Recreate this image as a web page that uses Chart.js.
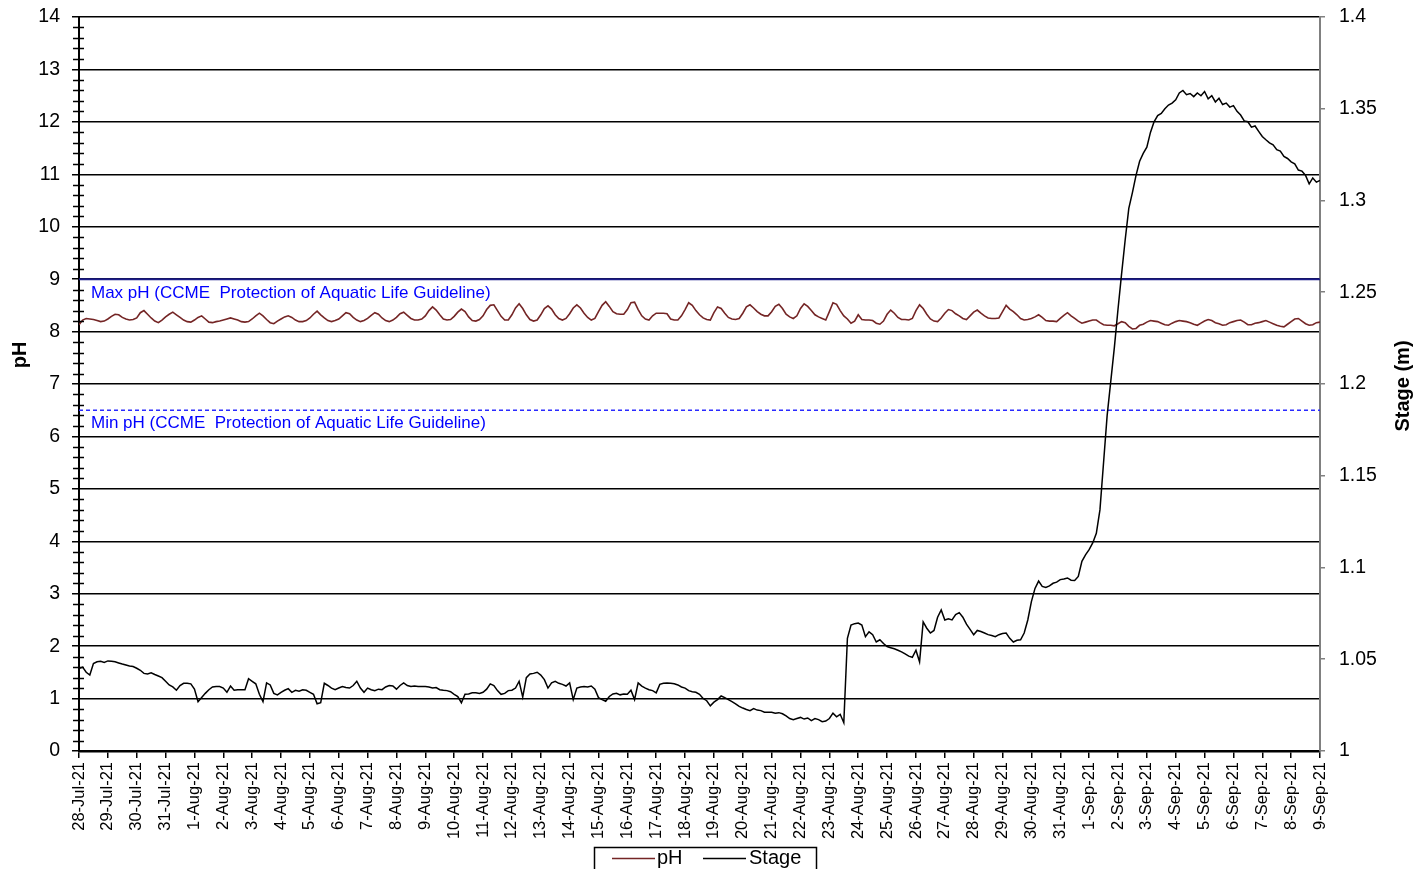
<!DOCTYPE html>
<html>
<head>
<meta charset="utf-8">
<script src="https://cdn.jsdelivr.net/npm/chart.js@4.4.1/dist/chart.umd.min.js"></script>
<style>
  html, body { margin: 0; padding: 0; background: #ffffff; }
  canvas { display: block; }
</style>
</head>
<body>
<canvas id="chart" width="1426" height="869"></canvas>
<script>
// Daily tick labels, 28 Jul 2021 to 9 Sep 2021
const dateLabels = [
  '28-Jul-21','29-Jul-21','30-Jul-21','31-Jul-21',
  '1-Aug-21','2-Aug-21','3-Aug-21','4-Aug-21','5-Aug-21','6-Aug-21','7-Aug-21','8-Aug-21',
  '9-Aug-21','10-Aug-21','11-Aug-21','12-Aug-21','13-Aug-21','14-Aug-21','15-Aug-21','16-Aug-21',
  '17-Aug-21','18-Aug-21','19-Aug-21','20-Aug-21','21-Aug-21','22-Aug-21','23-Aug-21','24-Aug-21',
  '25-Aug-21','26-Aug-21','27-Aug-21','28-Aug-21','29-Aug-21','30-Aug-21','31-Aug-21',
  '1-Sep-21','2-Sep-21','3-Sep-21','4-Sep-21','5-Sep-21','6-Sep-21','7-Sep-21','8-Sep-21','9-Sep-21'
];

// Logger readings every 3 hours (8 per day), starting 28-Jul-21 00:00
const STEP_DAYS = 0.125;

const phValues = [
  8.13, 8.22, 8.25, 8.24, 8.23, 8.21, 8.19, 8.20,
  8.24, 8.29, 8.33, 8.32, 8.27, 8.24, 8.22, 8.23,
  8.26, 8.36, 8.40, 8.33, 8.26, 8.20, 8.17, 8.22,
  8.28, 8.33, 8.37, 8.32, 8.27, 8.22, 8.19, 8.18,
  8.22, 8.27, 8.30, 8.24, 8.18, 8.17, 8.19, 8.20,
  8.22, 8.24, 8.26, 8.24, 8.22, 8.19, 8.18, 8.19,
  8.24, 8.30, 8.35, 8.30, 8.23, 8.17, 8.15, 8.20,
  8.24, 8.28, 8.30, 8.27, 8.22, 8.19, 8.19, 8.21,
  8.26, 8.33, 8.39, 8.32, 8.26, 8.21, 8.19, 8.21,
  8.24, 8.30, 8.36, 8.34, 8.27, 8.22, 8.19, 8.21,
  8.25, 8.31, 8.36, 8.33, 8.26, 8.21, 8.19, 8.22,
  8.27, 8.34, 8.37, 8.31, 8.25, 8.22, 8.22, 8.24,
  8.30, 8.40, 8.47, 8.41, 8.32, 8.24, 8.22, 8.23,
  8.29, 8.37, 8.43, 8.38, 8.28, 8.21, 8.20, 8.23,
  8.30, 8.42, 8.50, 8.51, 8.40, 8.29, 8.22, 8.22,
  8.32, 8.45, 8.53, 8.44, 8.32, 8.23, 8.20, 8.22,
  8.32, 8.44, 8.49, 8.43, 8.32, 8.25, 8.22, 8.25,
  8.34, 8.45, 8.51, 8.45, 8.35, 8.27, 8.22, 8.25,
  8.38, 8.50, 8.57, 8.48, 8.38, 8.34, 8.33, 8.33,
  8.42, 8.55, 8.56, 8.42, 8.30, 8.24, 8.22, 8.30,
  8.35, 8.35, 8.35, 8.34, 8.24, 8.22, 8.22, 8.30,
  8.42, 8.55, 8.50, 8.40, 8.32, 8.26, 8.23, 8.22,
  8.36, 8.47, 8.44, 8.35, 8.27, 8.24, 8.23, 8.25,
  8.35, 8.47, 8.51, 8.45, 8.38, 8.33, 8.30, 8.30,
  8.38, 8.48, 8.52, 8.44, 8.33, 8.28, 8.25, 8.30,
  8.44, 8.53, 8.48, 8.40, 8.32, 8.28, 8.25, 8.22,
  8.38, 8.55, 8.52, 8.40, 8.30, 8.24, 8.16, 8.20,
  8.32, 8.23, 8.22, 8.22, 8.21, 8.16, 8.14, 8.20,
  8.33, 8.41, 8.35, 8.27, 8.23, 8.23, 8.22, 8.25,
  8.40, 8.51, 8.44, 8.33, 8.24, 8.20, 8.19, 8.26,
  8.35, 8.42, 8.40, 8.34, 8.30, 8.25, 8.23, 8.30,
  8.37, 8.41, 8.35, 8.30, 8.26, 8.25, 8.25, 8.26,
  8.38, 8.50, 8.43, 8.38, 8.32, 8.25, 8.22, 8.23,
  8.25, 8.28, 8.32, 8.27, 8.21, 8.20, 8.20, 8.19,
  8.25, 8.31, 8.36, 8.30, 8.25, 8.20, 8.16, 8.18,
  8.20, 8.22, 8.22, 8.17, 8.13, 8.12, 8.12, 8.11,
  8.15, 8.19, 8.17, 8.10, 8.05, 8.06, 8.12, 8.14,
  8.18, 8.21, 8.20, 8.19, 8.16, 8.13, 8.12, 8.16,
  8.19, 8.21, 8.20, 8.19, 8.17, 8.14, 8.12, 8.16,
  8.20, 8.23, 8.21, 8.17, 8.15, 8.12, 8.13, 8.17,
  8.19, 8.21, 8.22, 8.18, 8.13, 8.13, 8.16, 8.17,
  8.19, 8.21, 8.18, 8.15, 8.12, 8.10, 8.09, 8.14,
  8.19, 8.24, 8.25, 8.20, 8.15, 8.12, 8.13, 8.17,
  8.18
];

// Stage in metres, same 3-hourly timestamps
const stageValues = [
  1.0449, 1.0457, 1.0429, 1.0414, 1.0477, 1.0486, 1.0489, 1.0483,
  1.0491, 1.0489, 1.0486, 1.0480, 1.0474, 1.0469, 1.0463, 1.0460,
  1.0451, 1.0440, 1.0423, 1.0420, 1.0426, 1.0417, 1.0409, 1.0400,
  1.0380, 1.0360, 1.0349, 1.0331, 1.0357, 1.0369, 1.0369, 1.0366,
  1.0337, 1.0269, 1.0291, 1.0314, 1.0334, 1.0349, 1.0351, 1.0351,
  1.0343, 1.0320, 1.0354, 1.0331, 1.0334, 1.0334, 1.0334, 1.0394,
  1.0380, 1.0366, 1.0309, 1.0269, 1.0371, 1.0360, 1.0314, 1.0306,
  1.0320, 1.0331, 1.0340, 1.0320, 1.0331, 1.0326, 1.0334, 1.0331,
  1.0320, 1.0309, 1.0257, 1.0263, 1.0369, 1.0357, 1.0343, 1.0334,
  1.0343, 1.0351, 1.0346, 1.0343, 1.0357, 1.0380, 1.0343, 1.0320,
  1.0343, 1.0334, 1.0329, 1.0337, 1.0334, 1.0349, 1.0357, 1.0354,
  1.0337, 1.0357, 1.0371, 1.0357, 1.0351, 1.0354, 1.0351, 1.0351,
  1.0351, 1.0349, 1.0343, 1.0346, 1.0334, 1.0331, 1.0329, 1.0323,
  1.0309, 1.0297, 1.0263, 1.0309, 1.0311, 1.0317, 1.0317, 1.0314,
  1.0320, 1.0337, 1.0366, 1.0357, 1.0329, 1.0309, 1.0314, 1.0329,
  1.0331, 1.0343, 1.0380, 1.0294, 1.0400, 1.0420, 1.0423, 1.0429,
  1.0414, 1.0389, 1.0343, 1.0371, 1.0380, 1.0369, 1.0363, 1.0354,
  1.0371, 1.0280, 1.0343, 1.0349, 1.0351, 1.0349, 1.0354, 1.0337,
  1.0291, 1.0280, 1.0271, 1.0297, 1.0311, 1.0314, 1.0306, 1.0311,
  1.0309, 1.0331, 1.0280, 1.0371, 1.0354, 1.0343, 1.0334, 1.0329,
  1.0317, 1.0363, 1.0369, 1.0371, 1.0369, 1.0366, 1.0360, 1.0349,
  1.0343, 1.0329, 1.0323, 1.0320, 1.0309, 1.0286, 1.0274, 1.0246,
  1.0266, 1.0280, 1.0300, 1.0291, 1.0280, 1.0269, 1.0257, 1.0243,
  1.0234, 1.0226, 1.0220, 1.0231, 1.0223, 1.0220, 1.0211, 1.0211,
  1.0211, 1.0206, 1.0209, 1.0203, 1.0191, 1.0177, 1.0171, 1.0177,
  1.0183, 1.0174, 1.0180, 1.0166, 1.0177, 1.0171, 1.0160, 1.0163,
  1.0177, 1.0206, 1.0186, 1.0200, 1.0154, 1.0614, 1.0686, 1.0694,
  1.0697, 1.0686, 1.0623, 1.0649, 1.0634, 1.0594, 1.0606, 1.0586,
  1.0569, 1.0563, 1.0557, 1.0549, 1.0540, 1.0529, 1.0517, 1.0511,
  1.0549, 1.0486, 1.0703, 1.0669, 1.0643, 1.0657, 1.0729, 1.0769,
  1.0714, 1.0720, 1.0714, 1.0743, 1.0754, 1.0729, 1.0691, 1.0663,
  1.0634, 1.0657, 1.0651, 1.0643, 1.0634, 1.0629, 1.0623, 1.0634,
  1.0640, 1.0643, 1.0614, 1.0594, 1.0603, 1.0606, 1.0643, 1.0714,
  1.0814, 1.0886, 1.0926, 1.0897, 1.0891, 1.0900, 1.0914, 1.0920,
  1.0934, 1.0937, 1.0943, 1.0931, 1.0929, 1.0951, 1.1034, 1.1069,
  1.1097, 1.1134, 1.1186, 1.1314, 1.1571, 1.1829, 1.2014, 1.2200,
  1.2406, 1.2600, 1.2786, 1.2957, 1.3043, 1.3137, 1.3214, 1.3257,
  1.3291, 1.3371, 1.3429, 1.3463, 1.3474, 1.3500, 1.3520, 1.3531,
  1.3549, 1.3586, 1.3600, 1.3577, 1.3583, 1.3566, 1.3586, 1.3571,
  1.3594, 1.3554, 1.3571, 1.3537, 1.3557, 1.3523, 1.3531, 1.3509,
  1.3517, 1.3486, 1.3466, 1.3434, 1.3429, 1.3400, 1.3406, 1.3377,
  1.3349, 1.3331, 1.3314, 1.3303, 1.3277, 1.3269, 1.3240, 1.3229,
  1.3211, 1.3200, 1.3166, 1.3160, 1.3137, 1.3091, 1.3123, 1.3100,
  1.3109
];

// CCME Protection of Aquatic Life guideline limits for pH
const maxPhGuideline = 9;
const minPhGuideline = 6.5;
const maxGuidelineLabel = 'Max pH (CCME  Protection of Aquatic Life Guideline)';
const minGuidelineLabel = 'Min pH (CCME  Protection of Aquatic Life Guideline)';

const FONT = "'Liberation Sans', Arial, Helvetica, sans-serif";
const LAST_DAY = dateLabels.length - 1;

const toPoints = vals => vals.map((v, i) => ({ x: i * STEP_DAYS, y: v }));
const flatLine = v => [{ x: 0, y: v }, { x: LAST_DAY, y: v }];

// keep the plot box fixed: set axis thickness, no extra label padding
const fixWidth = w => s => { s.width = w; s.paddingTop = 0; s.paddingBottom = 0; };
const fixHeight = h => s => { s.height = h; s.paddingLeft = 0; s.paddingRight = 0; };

// Annotation text, minor ticks, axis titles and boxed legend
const decorations = {
  id: 'decorations',
  afterDatasetsDraw(chart) {
    const { ctx, scales } = chart;
    const x0 = scales.x.getPixelForValue(0);
    ctx.save();
    ctx.fillStyle = '#0000ff';
    ctx.font = `17px ${FONT}`;
    ctx.textBaseline = 'middle';
    ctx.textAlign = 'left';
    ctx.fillText(maxGuidelineLabel, x0 + 12, scales.y.getPixelForValue(maxPhGuideline) + 14);
    ctx.fillText(minGuidelineLabel, x0 + 12, scales.y.getPixelForValue(minPhGuideline) + 13);
    ctx.restore();
  },
  afterDraw(chart) {
    const { ctx, scales, chartArea } = chart;
    ctx.save();

    // minor ticks every 0.2 pH across the left axis
    ctx.strokeStyle = '#000';
    ctx.lineWidth = 1.5;
    ctx.beginPath();
    for (let k = 1; k < 70; k++) {
      if (k % 5 === 0) continue;
      const y = Math.round(scales.y.getPixelForValue(k / 5)) + 0.5;
      ctx.moveTo(chartArea.left - 6, y);
      ctx.lineTo(chartArea.left + 5, y);
    }
    ctx.stroke();

    // axis titles
    ctx.fillStyle = '#000';
    ctx.font = `bold 20px ${FONT}`;
    ctx.textAlign = 'center';
    ctx.textBaseline = 'middle';
    ctx.save();
    ctx.translate(20, 355);
    ctx.rotate(-Math.PI / 2);
    ctx.fillText('pH', 0, 0);
    ctx.restore();
    ctx.save();
    ctx.translate(1403, 386);
    ctx.rotate(-Math.PI / 2);
    ctx.fillText('Stage (m)', 0, 0);
    ctx.restore();

    // legend box
    const ph = chart.data.datasets[0];
    const st = chart.data.datasets[1];
    ctx.strokeStyle = '#000';
    ctx.lineWidth = 1.5;
    ctx.strokeRect(594.5, 847.5, 222, 30);
    ctx.font = `20px ${FONT}`;
    ctx.textAlign = 'left';
    ctx.textBaseline = 'middle';
    const ly = 858.5;
    ctx.lineWidth = 1.5;
    ctx.strokeStyle = ph.borderColor;
    ctx.beginPath(); ctx.moveTo(612, ly); ctx.lineTo(655, ly); ctx.stroke();
    ctx.fillText(ph.label, 657, ly);
    ctx.strokeStyle = st.borderColor;
    ctx.beginPath(); ctx.moveTo(703, ly); ctx.lineTo(746, ly); ctx.stroke();
    ctx.fillText(st.label, 749, ly);

    ctx.restore();
  }
};

new Chart(document.getElementById('chart'), {
  type: 'line',
  data: {
    datasets: [
      {
        label: 'pH',
        data: toPoints(phValues),
        yAxisID: 'y',
        borderColor: '#742525',
        borderWidth: 1.6,
        pointRadius: 0,
        tension: 0,
        order: 2
      },
      {
        label: 'Stage',
        data: toPoints(stageValues),
        yAxisID: 'y1',
        borderColor: '#000000',
        borderWidth: 1.5,
        pointRadius: 0,
        tension: 0,
        order: 1
      },
      {
        label: 'Max pH',
        data: flatLine(maxPhGuideline),
        yAxisID: 'y',
        borderColor: '#1c1c8a',
        borderWidth: 2,
        pointRadius: 0,
        order: 3
      },
      {
        label: 'Min pH',
        data: flatLine(minPhGuideline),
        yAxisID: 'y',
        borderColor: '#2a2aff',
        borderWidth: 1.5,
        borderDash: [4, 3],
        pointRadius: 0,
        order: 4
      }
    ]
  },
  options: {
    responsive: false,
    devicePixelRatio: 1,
    animation: false,
    layout: { padding: { top: 17, left: 0, right: 0, bottom: 0 } },
    plugins: {
      legend: { display: false },
      tooltip: { enabled: false },
      title: { display: false }
    },
    scales: {
      x: {
        type: 'linear',
        min: 0,
        max: LAST_DAY,
        afterFit: fixHeight(118),
        ticks: {
          stepSize: 1,
          autoSkip: false,
          maxRotation: 90,
          minRotation: 90,
          padding: 4,
          color: '#000',
          font: { family: FONT, size: 16.5 },
          callback: v => dateLabels[Math.round(v)]
        },
        grid: { drawOnChartArea: false, drawTicks: true, tickLength: 7, color: '#000', lineWidth: 1.5 },
        border: { color: '#000', width: 2.5 }
      },
      y: {
        position: 'left',
        min: 0,
        max: 14,
        afterFit: fixWidth(79),
        ticks: {
          stepSize: 1,
          padding: 12,
          color: '#000',
          font: { family: FONT, size: 19.5 }
        },
        grid: { color: '#000', lineWidth: 1.5, tickLength: 7 },
        border: { color: '#000', width: 2 }
      },
      y1: {
        position: 'right',
        min: 1,
        max: 1.4,
        afterFit: fixWidth(106),
        ticks: {
          stepSize: 0.05,
          padding: 14,
          color: '#000',
          font: { family: FONT, size: 19.5 },
          callback: v => String(Math.round(v * 100) / 100)
        },
        grid: { drawOnChartArea: false, color: '#808080', tickLength: 5, lineWidth: 1.5 },
        border: { color: '#808080', width: 2 }
      }
    }
  },
  plugins: [decorations]
});
</script>
</body>
</html>
